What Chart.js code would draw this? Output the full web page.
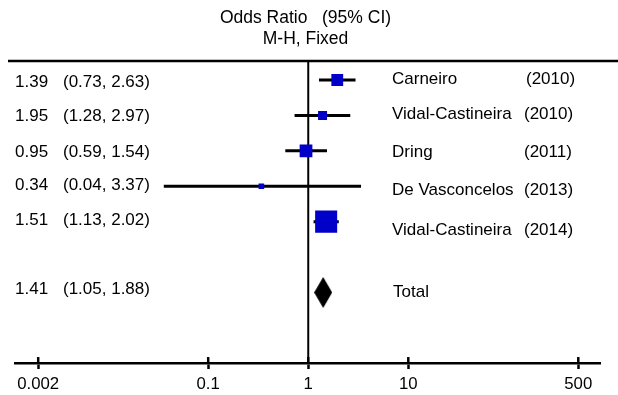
<!DOCTYPE html>
<html>
<head>
<meta charset="utf-8">
<script src="https://cdn.jsdelivr.net/npm/chart.js@4.4.1/dist/chart.umd.min.js"></script>
<style>
  html, body { margin: 0; padding: 0; background: #fff; }
  #wrap { width: 618px; height: 395px; position: relative; }
</style>
</head>
<body>
<div id="wrap"><canvas id="myChart"></canvas></div>
<script>
// study rows, top to bottom
var studies = ['Carneiro', 'Vidal-Castineira', 'Dring', 'De Vasconcelos', 'Vidal-Castineira'];
var years = ['(2010)', '(2010)', '(2011)', '(2013)', '(2014)'];

// left column text, as printed
var orText = ['1.39', '1.95', '0.95', '0.34', '1.51', '1.41'];
var ciText = ['(0.73, 2.63)', '(1.28, 2.97)', '(0.59, 1.54)', '(0.04, 3.37)', '(1.13, 2.02)', '(1.05, 1.88)'];

// plotted marks (first two rows are drawn swapped in the figure)
var oddsRatio = [1.95, 1.39, 0.95, 0.34, 1.51];
var ciLow = [1.28, 0.73, 0.59, 0.036, 1.13];
var ciHigh = [2.97, 2.63, 1.54, 3.37, 2.02];
var weights = [15.5, 9, 18, 3.5, 54]; // % weight, box area

var totalLabel = 'Total';
var totalOR = 1.41;

var tickValues = [0.002, 0.1, 1, 10, 500];

var FONT = '"Liberation Sans", Arial, sans-serif';
var BLUE = '#0000c8';

// diamond marker for the pooled estimate
var diamond = document.createElement('canvas');
diamond.width = 18;
diamond.height = 31;
var dctx = diamond.getContext('2d');
dctx.beginPath();
dctx.moveTo(9, 0);
dctx.lineTo(18, 15.5);
dctx.lineTo(9, 31);
dctx.lineTo(0, 15.5);
dctx.closePath();
dctx.fillStyle = '#000';
dctx.fill();

var datasets = [];
studies.forEach(function (s, i) {
    datasets.push({
        type: 'line',
        data: [{ x: ciLow[i], y: i + 1 }, { x: ciHigh[i], y: i + 1 }],
        borderColor: '#000',
        borderWidth: 3,
        pointRadius: 0,
        fill: false,
        order: 2
    });
});
datasets.push({
    type: 'scatter',
    data: oddsRatio.map(function (v, i) { return { x: v, y: i + 1 }; }),
    pointStyle: 'rect',
    pointRadius: weights.map(function (w) { return 3 * Math.sqrt(w) / Math.SQRT2; }),
    backgroundColor: BLUE,
    borderWidth: 0,
    order: 1
});
datasets.push({
    type: 'scatter',
    data: [{ x: totalOR, y: studies.length + 2 }],
    pointStyle: diamond,
    order: 0
});

var leftDy = [2.5, 1.3, 1, -0.5, -1.6, -3];
var rightDy = [-1, -1.4, 1, 3.8, 9, 0];

var forestPlugin = {
    id: 'forest',
    beforeDatasetsDraw: function (chart) {
        var c = chart.ctx, a = chart.chartArea, x = chart.scales.x.getPixelForValue(1);
        c.save();
        c.strokeStyle = '#000';
        c.lineWidth = 2;
        c.beginPath();
        c.moveTo(x, a.top);
        c.lineTo(x, a.bottom);
        c.stroke();
        c.restore();
    },
    afterDraw: function (chart) {
        var c = chart.ctx, a = chart.chartArea;
        var xs = chart.scales.x, ys = chart.scales.y;
        c.save();
        // top rule
        c.strokeStyle = '#000';
        c.lineWidth = 2.5;
        c.beginPath();
        c.moveTo(8, a.top);
        c.lineTo(chart.width, a.top);
        c.stroke();
        // upper half of the tick marks
        tickValues.forEach(function (v) {
            var px = xs.getPixelForValue(v);
            c.beginPath();
            c.moveTo(px, a.bottom - 6);
            c.lineTo(px, a.bottom);
            c.stroke();
        });

        c.fillStyle = '#000';
        c.textBaseline = 'middle';
        // header
        c.font = '17.5px ' + FONT;
        c.textAlign = 'center';
        c.fillText('Odds Ratio   (95% CI)', 305.5, 18);
        c.fillText('M-H, Fixed', 305.5, 39);

        c.font = '17px ' + FONT;
        c.textAlign = 'left';
        var rows = studies.length + 1;
        for (var i = 0; i < rows; i++) {
            var row = i < studies.length ? i + 1 : studies.length + 2;
            var py = ys.getPixelForValue(row);
            c.fillText(orText[i], 15, py + leftDy[i]);
            c.fillText(ciText[i], 63, py + leftDy[i]);
            if (i < studies.length) {
                c.fillText(studies[i], 392, py + rightDy[i]);
                c.fillText(years[i], i === 0 ? 526 : 524, py + rightDy[i]);
            } else {
                c.fillText(totalLabel, 393, py + rightDy[i]);
            }
        }
        c.restore();
    }
};

var ctx = document.getElementById('myChart');

var forestChart = new Chart(ctx, {
    type: 'scatter',
    data: { datasets: datasets },
    options: {
        responsive: true,
        maintainAspectRatio: false,
        animation: false,
        layout: { padding: { top: 61, left: 13, right: 18, bottom: -4.2 } },
        plugins: {
            legend: { display: false },
            tooltip: { enabled: false }
        },
        scales: {
            x: {
                type: 'logarithmic',
                min: Math.pow(10, -2.925),
                max: Math.pow(10, 2.916),
                afterBuildTicks: function (axis) {
                    axis.ticks = tickValues.map(function (v) { return { value: v }; });
                },
                ticks: {
                    autoSkip: false,
                    maxRotation: 0,
                    color: '#000',
                    padding: 5,
                    font: { family: FONT, size: 16.8 },
                    callback: function (v) { return String(v); }
                },
                grid: {
                    display: true,
                    drawOnChartArea: false,
                    drawTicks: true,
                    tickLength: 6,
                    tickWidth: 2.5,
                    tickColor: '#000',
                    color: '#000'
                },
                border: { display: true, color: '#000', width: 2.5 }
            },
            y: {
                type: 'linear',
                reverse: true,
                min: 0.463,
                max: 8.994,
                display: false
            }
        }
    },
    plugins: [forestPlugin]
});
</script>
</body>
</html>
